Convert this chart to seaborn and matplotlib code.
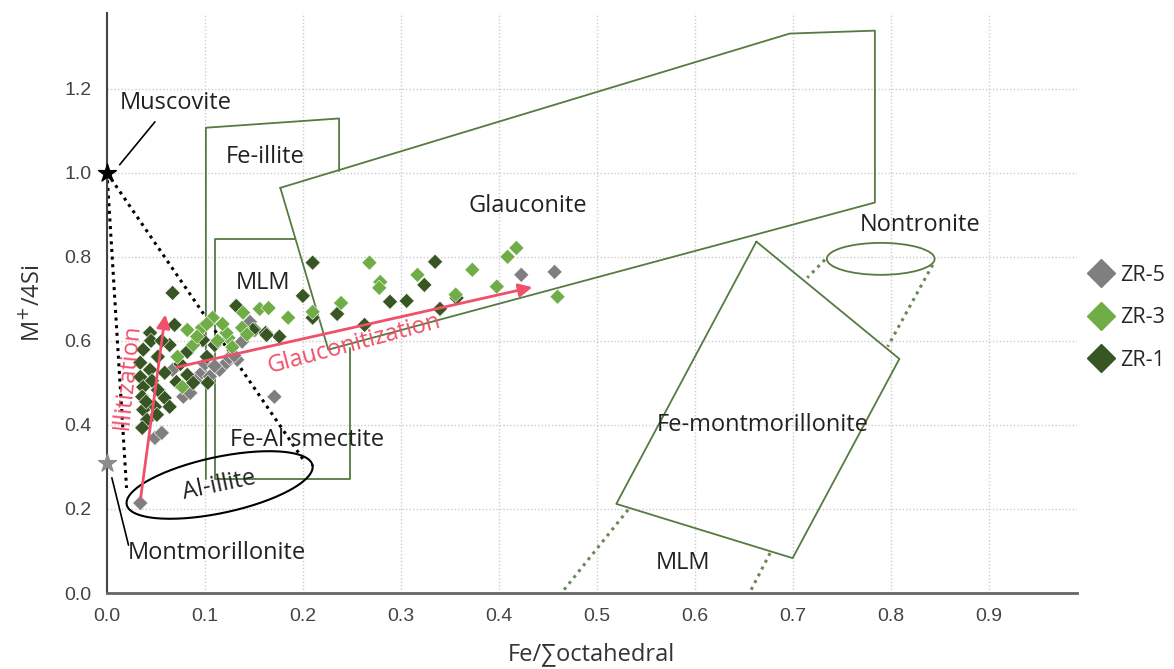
import numpy as np
import pandas as pd
import seaborn as sns
import matplotlib.pyplot as plt
from matplotlib.patches import Ellipse

# sample points (Fe/sum octahedral, M+/4Si)
zr5_x = [0.034, 0.049, 0.056, 0.171, 0.078, 0.085, 0.067, 0.115, 0.122, 0.133, 0.100, 0.110,
         0.125, 0.130, 0.095, 0.146, 0.138, 0.423, 0.457, 0.090, 0.105]
zr5_y = [0.214, 0.369, 0.381, 0.467, 0.467, 0.476, 0.531, 0.531, 0.548, 0.555, 0.545, 0.540,
         0.560, 0.565, 0.520, 0.645, 0.598, 0.757, 0.764, 0.505, 0.515]

zr3_x = [0.268, 0.418, 0.409, 0.373, 0.279, 0.278, 0.317, 0.398, 0.460, 0.356, 0.239, 0.210,
         0.185, 0.156, 0.165, 0.139, 0.108, 0.138, 0.124, 0.082, 0.097, 0.122, 0.088, 0.072,
         0.077, 0.113, 0.118, 0.092, 0.128, 0.102, 0.143]
zr3_y = [0.786, 0.821, 0.800, 0.769, 0.740, 0.726, 0.757, 0.729, 0.705, 0.710, 0.690, 0.669,
         0.655, 0.676, 0.678, 0.667, 0.655, 0.631, 0.607, 0.626, 0.631, 0.619, 0.590, 0.562,
         0.490, 0.600, 0.640, 0.610, 0.585, 0.640, 0.615]

zr1_x = [0.210, 0.335, 0.324, 0.200, 0.289, 0.306, 0.357, 0.340, 0.235, 0.210, 0.263, 0.132,
         0.151, 0.162, 0.176, 0.110, 0.097, 0.067, 0.069, 0.044, 0.149, 0.163, 0.098, 0.064,
         0.037, 0.052, 0.034, 0.082, 0.102, 0.044, 0.059, 0.034, 0.082, 0.103, 0.088, 0.071,
         0.037, 0.052, 0.036, 0.059, 0.064, 0.049, 0.037, 0.041, 0.036, 0.051, 0.045, 0.056,
         0.040, 0.075, 0.046]
zr1_y = [0.786, 0.788, 0.733, 0.707, 0.693, 0.695, 0.702, 0.676, 0.664, 0.655, 0.638, 0.683,
         0.626, 0.619, 0.610, 0.590, 0.602, 0.714, 0.638, 0.619, 0.626, 0.614, 0.602, 0.590,
         0.579, 0.562, 0.548, 0.574, 0.562, 0.531, 0.524, 0.514, 0.519, 0.500, 0.500, 0.502,
         0.490, 0.483, 0.467, 0.464, 0.443, 0.443, 0.436, 0.412, 0.393, 0.424, 0.600, 0.600,
         0.455, 0.545, 0.505]

# field outlines
glauc_x = [0.177, 0.697, 0.784, 0.784, 0.226, 0.177]
glauc_y = [0.964, 1.331, 1.338, 0.929, 0.579, 0.964]
feillite_x = [0.101, 0.101, 0.237, 0.237]
feillite_y = [0.271, 1.107, 1.129, 1.004]
mlm_x = [0.192, 0.110, 0.110, 0.248, 0.248]
mlm_y = [0.843, 0.843, 0.271, 0.271, 0.583]
femont_x = [0.663, 0.809, 0.700, 0.520, 0.663]
femont_y = [0.836, 0.557, 0.083, 0.212, 0.836]
dotted_green = [([0.733, 0.715], [0.793, 0.750]),
                ([0.843, 0.797], [0.781, 0.586]),
                ([0.532, 0.464], [0.198, 0.0]),
                ([0.677, 0.656], [0.095, 0.0])]
dotted_black = [([0.0, 0.02], [1.0, 0.25]),
                ([0.0, 0.202], [1.0, 0.312])]

rows = []
for name, xs, ys in [("ZR-5", zr5_x, zr5_y), ("ZR-1", zr1_x, zr1_y), ("ZR-3", zr3_x, zr3_y)]:
    for a, b in zip(xs, ys):
        rows.append({"Fe": a, "M": b, "sample": name})
df = pd.DataFrame(rows)

sns.set_style("white")
plt.rcParams['font.family'] = ['Open Sans', 'DejaVu Sans']

fig = plt.figure(figsize=(11.74, 6.69), dpi=100)
ax = fig.add_axes([0.0911, 0.1136, 0.826, 0.867])

green = "#557a42"
ax.plot(glauc_x, glauc_y, color=green, lw=1.3)
ax.plot(feillite_x, feillite_y, color=green, lw=1.3)
ax.plot(mlm_x, mlm_y, color=green, lw=1.3)
ax.plot(femont_x, femont_y, color=green, lw=1.3)
for xs, ys in dotted_green:
    ax.plot(xs, ys, color="#6a8a55", lw=2.2, ls=(0, (1, 1.5)))
for xs, ys in dotted_black:
    ax.plot(xs, ys, color="black", lw=2.2, ls=(0, (1, 1.5)))
ax.add_patch(Ellipse((0.790, 0.795), 0.110, 0.076, fill=False, ec=green, lw=1.3))

# Al-illite ellipse, tilted on screen
t = np.linspace(0, 2 * np.pi, 200)
th = np.deg2rad(12)
ex = 0.115 + (95 * np.cos(t) * np.cos(th) - 28 * np.sin(t) * np.sin(th)) / 980
ey = 0.257 + (95 * np.cos(t) * np.sin(th) + 28 * np.sin(t) * np.cos(th)) / 420
ax.plot(ex, ey, color="black", lw=1.5)

pal = {"ZR-5": "#7f7f7f", "ZR-3": "#70ad47", "ZR-1": "#375623"}
sns.scatterplot(data=df, x="Fe", y="M", hue="sample", palette=pal, marker="D", s=60,
                edgecolor="white", linewidth=0.4, ax=ax, legend=False, zorder=3)

# end members
ax.scatter([0.0], [1.0], marker="*", s=180, color="black", zorder=4, clip_on=False)
ax.scatter([0.0], [0.31], marker="*", s=180, color="#8c8c8c", zorder=4, clip_on=False)
ax.plot([0.013, 0.049], [1.019, 1.121], color="black", lw=1.2)
ax.plot([0.005, 0.022], [0.274, 0.114], color="black", lw=1.2)

# trend arrows
red = "#f0506a"
ax.annotate("", xy=(0.060, 0.669), xytext=(0.034, 0.219),
            arrowprops=dict(arrowstyle="-|>", color=red, lw=2, mutation_scale=20), zorder=5)
ax.annotate("", xy=(0.437, 0.729), xytext=(0.069, 0.536),
            arrowprops=dict(arrowstyle="-|>", color=red, lw=2, mutation_scale=20), zorder=5)
ax.text(0.021, 0.515, "Illitization", color=red, fontsize=17, rotation=84,
        ha="center", va="center", zorder=5)
ax.text(0.252, 0.592, "Glauconitization", color=red, fontsize=17, rotation=15,
        ha="center", va="center", zorder=5)

lab = dict(fontsize=17, color="#222222", ha="center", va="center")
ax.text(0.013, 1.167, "Muscovite", fontsize=17, color="#222222", ha="left", va="center")
ax.text(0.162, 1.038, "Fe-illite", **lab)
ax.text(0.159, 0.738, "MLM", **lab)
ax.text(0.430, 0.921, "Glauconite", **lab)
ax.text(0.830, 0.876, "Nontronite", **lab)
ax.text(0.670, 0.400, "Fe-montmorillonite", **lab)
ax.text(0.588, 0.071, "MLM", **lab)
ax.text(0.204, 0.364, "Fe-Al smectite", **lab)
ax.text(0.115, 0.257, "Al-illite", rotation=12, **lab)
ax.text(0.021, 0.095, "Montmorillonite", fontsize=17, color="#222222", ha="left", va="center")

ax.set_xlim(0, 0.99)
ax.set_ylim(0, 1.38)
ax.set_xticks(np.arange(0, 0.91, 0.1))
ax.set_yticks(np.arange(0, 1.21, 0.2))
ax.xaxis.set_major_formatter(plt.FormatStrFormatter("%.1f"))
ax.yaxis.set_major_formatter(plt.FormatStrFormatter("%.1f"))
ax.grid(True, color="#cccccc", ls=(0, (1, 1.5)), lw=1)
ax.set_axisbelow(True)
for s in ["top", "right"]:
    ax.spines[s].set_visible(False)
ax.spines["left"].set_color("#444444")
ax.spines["bottom"].set_color("#666666")
ax.spines["left"].set_linewidth(1.5)
ax.spines["bottom"].set_linewidth(2)
ax.tick_params(labelsize=14, colors="#444444", length=0, pad=11)
for lbl in ax.get_xticklabels() + ax.get_yticklabels():
    lbl.set_family(["Liberation Sans", "DejaVu Sans"])
ax.set_xlabel("Fe/∑octahedral", fontsize=17, color="#333333", labelpad=12)
ax.set_ylabel("M$^{+}$/4Si", fontsize=17, color="#333333", labelpad=14)

handles = [plt.Line2D([], [], marker="D", ls="", color=pal[k], markersize=14) for k in ["ZR-5", "ZR-3", "ZR-1"]]
fig.legend(handles, ["ZR-5", "ZR-3", "ZR-1"], loc="center left", bbox_to_anchor=(1088 / 1174, 0.5247),
           frameon=False, fontsize=15.5, labelspacing=1.0, handletextpad=0.3, handlelength=1.2,
           borderpad=0, borderaxespad=0)

fig.savefig("out.png", dpi=100)
